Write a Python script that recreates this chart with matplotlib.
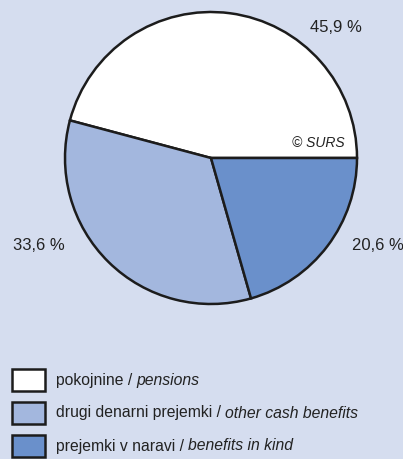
import matplotlib
matplotlib.use("Agg")
import matplotlib.pyplot as plt
from matplotlib.patches import Rectangle
from matplotlib import font_manager

W, H = 403, 459
DPI = 100

values = [45.9, 33.6, 20.6]
value_labels = ["45,9 %", "33,6 %", "20,6 %"]
legend_si = ["pokojnine / ", "drugi denarni prejemki / ", "prejemki v naravi / "]
legend_en = ["pensions", "other cash benefits", "benefits in kind"]
colors = ["#ffffff", "#a3b7de", "#6a90cb"]
bg = "#d5ddef"
edge = "#1c1c1c"

names = {f.name for f in font_manager.fontManager.ttflist}
fam = "Liberation Sans Narrow" if "Liberation Sans Narrow" in names else "Liberation Sans"
plt.rcParams["font.family"] = [fam, "DejaVu Sans"]

fig = plt.figure(figsize=(W / DPI, H / DPI), dpi=DPI, facecolor=bg)

def fx(x):
    return x / W

def fy(y):
    return 1 - y / H

cx, cy, r = 211, 158, 146
ax = fig.add_axes([fx(cx - r), fy(cy + r), 2 * r / W, 2 * r / H])
ax.set_facecolor(bg)
ax.pie(values, colors=colors, startangle=0, counterclock=True,
       wedgeprops=dict(edgecolor=edge, linewidth=1.8), radius=1)
ax.set_xlim(-1.0, 1.0)
ax.set_ylim(-1.0, 1.0)
ax.set_aspect("equal")
ax.axis("off")

fs = 12
lfs = 11.3
txt = "#222222"
fig.text(fx(336), fy(27), value_labels[0], ha="center", va="center", fontsize=fs, color=txt)
fig.text(fx(39), fy(246), value_labels[1], ha="center", va="center", fontsize=fs, color=txt)
fig.text(fx(378), fy(246), value_labels[2], ha="center", va="center", fontsize=fs, color=txt)
fig.text(fx(318), fy(143), "© SURS", ha="center", va="center", fontsize=10, style="italic", color=txt)

renderer = fig.canvas.get_renderer()
row_y = [380, 413, 446]
for i, yc in enumerate(row_y):
    fig.add_artist(Rectangle((fx(12), fy(yc + 11)), 33 / W, 22 / H, transform=fig.transFigure,
                             facecolor=colors[i], edgecolor=edge, linewidth=1.8))
    t1 = fig.text(fx(56), fy(yc), legend_si[i], ha="left", va="center", fontsize=lfs, color=txt)
    bb = t1.get_window_extent(renderer)
    fig.text(bb.x1 / W, fy(yc), legend_en[i], ha="left", va="center", fontsize=lfs,
             style="italic", color=txt)

fig.savefig("out.png", dpi=DPI, facecolor=bg)
